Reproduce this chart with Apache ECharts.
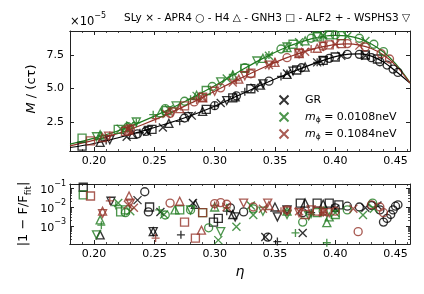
<!DOCTYPE html>
<html><head><meta charset="utf-8">
<script src="https://cdn.jsdelivr.net/npm/echarts@6/dist/echarts.min.js"></script>
<style>html,body{margin:0;padding:0;background:#fff}#c{width:424px;height:294px}</style>
</head><body><div id="c"></div>
<script>
const FONT = 'DejaVu Sans';
const C_GR = '#000000', C_M1 = '#1f7a1f', C_M2 = '#943228';

// tick labels
const xTicks = [0.20, 0.25, 0.30, 0.35, 0.40, 0.45];
const yTopTicks = [2.5, 5.0, 7.5];
const yBotDecades = [-1, -2, -3];
const eosNames = ['SLy', 'APR4', 'H4', 'GNH3', 'ALF2', 'WSPHS3'];

// fit curves (M/(c tau) in units of 1e-5)
const fitEta = [0.18,0.20,0.22,0.24,0.26,0.28,0.30,0.32,0.34,0.36,0.38,0.39,0.40,0.41,0.42,0.43,0.44,0.45,0.462];
const fitGR  = [0.60,0.90,1.33,1.82,2.37,2.97,3.68,4.50,5.32,6.08,6.78,7.10,7.38,7.55,7.58,7.42,6.98,6.30,5.40];
const fitM1  = [0.85,1.30,1.85,2.55,3.35,4.25,5.20,6.25,7.25,8.10,8.70,8.90,8.97,8.92,8.72,8.32,7.72,6.85,5.45];
const fitM2  = [0.72,1.15,1.65,2.30,3.05,3.90,4.80,5.70,6.55,7.30,7.90,8.12,8.28,8.33,8.24,7.98,7.50,6.75,5.42];

// top panel points [eta, M/(c tau) x1e5]
const GR_SLy  = [[0.227,1.40],[0.244,1.78],[0.257,2.10],[0.281,2.98],[0.305,3.92],[0.333,5.05],[0.36,6.12],[0.385,6.95],[0.405,7.45],[0.425,7.45]];
const GR_APR4 = [[0.236,1.62],[0.243,1.80],[0.275,2.80],[0.30,3.72],[0.318,4.45],[0.345,5.55],[0.372,6.55],[0.395,7.25],[0.41,7.55],[0.42,7.55],[0.43,7.3],[0.437,7.0],[0.443,6.75],[0.448,6.45],[0.452,6.2]];
const GR_H4   = [[0.205,0.98],[0.232,1.58],[0.262,2.40],[0.29,3.30],[0.317,4.38],[0.338,5.25],[0.36,6.05],[0.375,6.6]];
const GR_GNH3 = [[0.19,0.70],[0.248,1.95],[0.293,3.45],[0.315,4.30],[0.33,4.98],[0.368,6.38],[0.39,7.1],[0.40,7.35],[0.425,7.5],[0.435,7.2]];
const GR_ALF2 = [[0.21,1.13],[0.238,1.70],[0.271,2.55],[0.30,3.70],[0.325,4.75],[0.355,5.9],[0.385,6.95]];
const GR_WSP  = [[0.213,1.18],[0.245,1.88],[0.278,2.90],[0.31,4.10],[0.34,5.35],[0.365,6.3],[0.39,7.05]];

const M1_SLy  = [[0.222,2.0],[0.23,2.25],[0.262,3.45],[0.285,4.45],[0.31,5.75],[0.345,7.45],[0.37,8.45],[0.39,8.95],[0.41,8.9],[0.425,8.55]];
const M1_APR4 = [[0.228,2.15],[0.259,3.5],[0.275,4.05],[0.298,5.15],[0.325,6.55],[0.355,7.95],[0.38,8.75],[0.40,9.0],[0.42,8.75],[0.432,8.3],[0.44,7.75]];
const M1_H4   = [[0.205,1.55],[0.227,2.1],[0.255,3.2],[0.285,4.5],[0.315,6.0],[0.34,7.25],[0.36,8.05],[0.375,8.55]];
const M1_GNH3 = [[0.19,1.3],[0.22,1.95],[0.26,3.35],[0.293,4.85],[0.325,6.5],[0.365,8.3],[0.385,8.85],[0.395,9.0],[0.405,8.95]];
const M1_ALF2 = [[0.206,1.5],[0.235,2.45],[0.249,3.05],[0.28,4.2],[0.315,6.05],[0.345,7.5],[0.39,8.8]];
const M1_WSP  = [[0.202,1.4],[0.235,2.5],[0.268,3.7],[0.305,5.5],[0.335,7.05],[0.36,8.1],[0.385,8.9]];

const M2_SLy  = [[0.228,1.95],[0.26,3.1],[0.29,4.3],[0.315,5.45],[0.345,6.75],[0.375,7.75],[0.40,8.3],[0.42,8.2]];
const M2_APR4 = [[0.23,1.95],[0.263,3.15],[0.283,4.0],[0.305,5.05],[0.33,6.1],[0.36,7.3],[0.39,8.15],[0.41,8.35],[0.425,8.1],[0.438,7.6],[0.445,7.2]];
const M2_H4   = [[0.207,1.35],[0.229,1.9],[0.271,3.5],[0.29,4.3],[0.32,5.7],[0.35,6.95],[0.37,7.6],[0.385,8.0]];
const M2_GNH3 = [[0.197,1.1],[0.226,1.8],[0.275,3.7],[0.29,4.35],[0.33,6.15],[0.37,7.65],[0.395,8.25],[0.405,8.35]];
const M2_ALF2 = [[0.213,1.5],[0.251,2.75],[0.285,4.15],[0.318,5.6],[0.35,6.95],[0.38,7.95]];
const M2_WSP  = [[0.212,1.45],[0.23,1.98],[0.265,3.25],[0.30,4.8],[0.325,5.95],[0.345,6.75],[0.37,7.6],[0.39,8.15]];

// bottom panel residuals [eta, |1-F/Ffit|]
const rGR_SLy  = [[0.236,0.023],[0.255,0.0055],[0.282,0.016],[0.342,2.6e-4],[0.373,4.3e-4],[0.40,0.008],[0.425,0.009],[0.435,0.012]];
const rGR_APR4 = [[0.242,0.063],[0.245,0.0055],[0.313,0.009],[0.324,0.0055],[0.344,2.6e-4],[0.373,0.005],[0.40,0.009],[0.41,0.011],[0.42,0.01],[0.43,0.012],[0.437,0.007],[0.440,0.0016],[0.443,0.0025],[0.446,0.004],[0.448,0.007],[0.450,0.011],[0.452,0.013]];
const rGR_H4   = [[0.205,3.4e-4],[0.249,5e-4],[0.284,0.014],[0.315,0.004],[0.35,0.01],[0.375,0.016],[0.39,0.014]];
const rGR_GNH3 = [[0.191,0.11],[0.246,0.01],[0.299,0.0016],[0.303,0.0025],[0.371,0.016],[0.385,0.016],[0.395,0.016],[0.403,0.013]];
const rGR_ALF2 = [[0.272,3.4e-4],[0.352,1.5e-4],[0.31,0.006],[0.38,0.005]];
const rGR_WSP  = [[0.214,0.02],[0.249,5e-4],[0.317,0.003],[0.352,0.003],[0.36,0.007]];

const rM1_SLy  = [[0.22,0.016],[0.23,0.006],[0.258,0.004],[0.303,1.8e-4],[0.318,9e-4],[0.332,0.0038],[0.33,0.012],[0.40,0.005],[0.423,0.0038],[0.432,0.008]];
const rM1_APR4 = [[0.226,0.005],[0.259,0.0038],[0.28,0.007],[0.295,8e-4],[0.332,0.008],[0.373,0.0016],[0.39,0.006],[0.41,0.007],[0.431,0.016]];
const rM1_H4   = [[0.205,0.0021],[0.267,0.007],[0.30,0.01],[0.36,0.006],[0.393,0.0015],[0.395,0.003]];
const rM1_GNH3 = [[0.191,0.043],[0.222,0.0055],[0.226,0.007],[0.271,0.007],[0.29,0.005],[0.385,0.005],[0.40,0.004]];
const rM1_ALF2 = [[0.206,0.0011],[0.218,0.012],[0.254,0.007],[0.31,0.009],[0.367,4.3e-4],[0.393,1.3e-4],[0.38,0.004]];
const rM1_WSP  = [[0.202,3.4e-4],[0.28,0.007],[0.305,5e-4],[0.34,0.006],[0.36,0.004],[0.378,0.0035]];

const rM2_SLy  = [[0.228,0.013],[0.233,0.009],[0.31,0.01],[0.34,0.008],[0.37,0.006],[0.39,0.005],[0.415,0.008]];
const rM2_APR4 = [[0.263,0.016],[0.30,0.015],[0.305,0.017],[0.31,0.014],[0.332,0.01],[0.36,0.007],[0.40,0.006],[0.419,5e-4],[0.43,0.013],[0.437,0.01],[0.44,0.005]];
const rM2_H4   = [[0.207,0.006],[0.229,0.038],[0.271,0.02],[0.289,6e-4],[0.345,0.012],[0.39,0.006]];
const rM2_GNH3 = [[0.197,0.038],[0.275,0.0016],[0.284,2.3e-4],[0.29,0.005],[0.375,0.004],[0.385,0.006]];
const rM2_ALF2 = [[0.213,0.021],[0.251,2.3e-4],[0.30,0.012],[0.355,0.006],[0.39,0.005]];
const rM2_WSP  = [[0.207,0.0045],[0.23,0.016],[0.324,0.016],[0.344,0.016],[0.36,0.006],[0.37,0.005],[0.38,0.007],[0.395,0.005]];

// ---------- build ----------
const SYM = [
  'path://M0,0L10,10M10,0L0,10',      // x  SLy
  'circle',                            // o  APR4
  'path://M5,0L10,8.66L0,8.66Z',       // ^  H4
  'path://M0,0L10,0L10,10L0,10Z',      // s  GNH3
  'path://M5,0L5,10M0,5L10,5',         // +  ALF2
  'path://M0,0L10,0L5,8.66Z'           // v  WSPHS3
];
const theories = [
  {name:'GR', color:C_GR, fit:fitGR, top:[GR_SLy,GR_APR4,GR_H4,GR_GNH3,GR_ALF2,GR_WSP], bot:[rGR_SLy,rGR_APR4,rGR_H4,rGR_GNH3,rGR_ALF2,rGR_WSP]},
  {name:'m1', color:C_M1, fit:fitM1, top:[M1_SLy,M1_APR4,M1_H4,M1_GNH3,M1_ALF2,M1_WSP], bot:[rM1_SLy,rM1_APR4,rM1_H4,rM1_GNH3,rM1_ALF2,rM1_WSP]},
  {name:'m2', color:C_M2, fit:fitM2, top:[M2_SLy,M2_APR4,M2_H4,M2_GNH3,M2_ALF2,M2_WSP], bot:[rM2_SLy,rM2_APR4,rM2_H4,rM2_GNH3,rM2_ALF2,rM2_WSP]}
];
const legendText = {
  'GR': 'GR',
  'm1': '{i|m}{sub|ϕ}{t| = 0.0108neV}',
  'm2': '{i|m}{sub|ϕ}{t| = 0.1084neV}'
};

const SYM_SIZE = 8, SYM_W = 1.35;
const series = [];
theories.forEach((th, ti) => {
  series.push({type:'line', name:'fit'+ti, xAxisIndex:0, yAxisIndex:0, data: fitEta.map((e,i)=>[e, th.fit[i]]),
    smooth:0.35, showSymbol:false, symbol:'none', lineStyle:{color:th.color, width:1.2}, silent:true, z:2+ti, clip:true});
});
theories.forEach((th, ti) => {
  th.top.forEach((arr, ei) => {
    series.push({type:'scatter', name: ei===0 ? th.name : th.name+'_'+eosNames[ei], xAxisIndex:0, yAxisIndex:0, data:arr,
      symbol:SYM[ei], symbolSize:SYM_SIZE, itemStyle:{color:'none', borderColor:th.color, borderWidth:SYM_W},
      silent:true, clip:true, z:5+ti});
  });
  th.bot.forEach((arr, ei) => {
    series.push({type:'scatter', name: th.name+'_r_'+eosNames[ei], xAxisIndex:4, yAxisIndex:2, data:arr.map(p=>[p[0], Math.log10(p[1])]),
      symbol:SYM[ei], symbolSize:SYM_SIZE, itemStyle:{color:'none', borderColor:th.color, borderWidth:SYM_W},
      silent:true, clip:true, z:5+ti});
  });
});

const X_MIN = 0.18, X_MAX = 0.462;
const axLine = {show:true, lineStyle:{color:'#222', width:1}};
function xAx(grid, pos, labels, minor) {
  return {type:'value', gridIndex:grid, position:pos, min:X_MIN, max:X_MAX,
    interval: minor ? 0.01 : undefined,
    axisLine:axLine, splitLine:{show:false},
    axisTick: minor ? {show:true, inside:true, length:2, lineStyle:{color:'#222', width:0.8}}
                    : {show:true, inside:true, length:4, customValues:xTicks, lineStyle:{color:'#222', width:1}},
    axisLabel: labels ? {show:true, customValues:xTicks, formatter:v=>v.toFixed(2), fontFamily:FONT, fontSize:11, color:'#000', margin:5}
                      : {show:false}};
}
const botMinor = [];
[-4,-3,-2,-1].forEach(d => { for (let k=2;k<=9;k++){ const v = d + Math.log10(k); if (v>-3.95 && v<-0.79) botMinor.push(v);} });

const xAxes = [
  xAx(0,'bottom',true,false), xAx(0,'top',false,false), xAx(0,'bottom',false,true), xAx(0,'top',false,true),
  xAx(1,'bottom',true,false), xAx(1,'top',false,false), xAx(1,'bottom',false,true), xAx(1,'top',false,true)
];
const yAxes = [
  {type:'value', gridIndex:0, position:'left', min:0.34, max:9.29, axisLine:axLine, splitLine:{show:false},
   axisTick:{show:true, inside:true, length:4, customValues:yTopTicks, lineStyle:{color:'#222'}},
   axisLabel:{show:true, customValues:yTopTicks, formatter:v=>v.toFixed(1), fontFamily:FONT, fontSize:11, color:'#000', margin:6}},
  {type:'value', gridIndex:0, position:'right', min:0.34, max:9.29, axisLine:axLine, splitLine:{show:false},
   axisTick:{show:true, inside:true, length:4, customValues:yTopTicks, lineStyle:{color:'#222'}}, axisLabel:{show:false}},
  {type:'value', gridIndex:1, position:'left', min:-3.95, max:-0.79, axisLine:axLine, splitLine:{show:false},
   axisTick:{show:true, inside:true, length:4, customValues:yBotDecades, lineStyle:{color:'#222'}},
   axisLabel:{show:true, customValues:yBotDecades, formatter:v=>'{b|10}{s|−'+(-v)+'}', margin:4,
     rich:{b:{fontFamily:FONT, fontSize:11, color:'#000', verticalAlign:'bottom', lineHeight:16},
           s:{fontFamily:FONT, fontSize:8, color:'#000', verticalAlign:'top'}}}},
  {type:'value', gridIndex:1, position:'right', min:-3.95, max:-0.79, axisLine:axLine, splitLine:{show:false},
   axisTick:{show:true, inside:true, length:4, customValues:yBotDecades, lineStyle:{color:'#222'}}, axisLabel:{show:false}},
  {type:'value', gridIndex:1, position:'left', min:-3.95, max:-0.79, axisLine:{show:false}, splitLine:{show:false},
   axisTick:{show:true, inside:true, length:2, customValues:botMinor, lineStyle:{color:'#222', width:0.8}}, axisLabel:{show:false}},
  {type:'value', gridIndex:1, position:'right', min:-3.95, max:-0.79, axisLine:{show:false}, splitLine:{show:false},
   axisTick:{show:true, inside:true, length:2, customValues:botMinor, lineStyle:{color:'#222', width:0.8}}, axisLabel:{show:false}}
];

const option = {
  animation:false,
  backgroundColor:'#fff',
  textStyle:{fontFamily:FONT},
  grid:[{left:70, top:31, width:340, height:120}, {left:70, top:184, width:340, height:60}],
  xAxis:xAxes, yAxis:yAxes,
  legend:{orient:'vertical', left:272, top:88, itemWidth:32, itemHeight:9, itemGap:3,
    data:['GR','m1','m2'], selectedMode:false,
    formatter: n => legendText[n],
    textStyle:{fontFamily:FONT, fontSize:11, color:'#000', lineHeight:14,
      rich:{i:{fontStyle:'italic', fontSize:11, fontFamily:FONT}, sub:{fontSize:7.5, fontFamily:FONT, verticalAlign:'bottom', lineHeight:14}, t:{fontSize:11, fontFamily:FONT}}}},
  graphic:[
    {type:'text', left:70, top:12, style:{text:'{b|×10}{s|−5}', rich:{b:{fontFamily:FONT, fontSize:11.5, fill:'#000', verticalAlign:'bottom', lineHeight:16}, s:{fontFamily:FONT, fontSize:8, fill:'#000', verticalAlign:'top'}}}},
    {type:'text', right:14, top:13, style:{text:'SLy × - APR4 ○ - H4 △ - GNH3 □ - ALF2 + - WSPHS3 ▽', fontFamily:FONT, fontSize:10.5, fill:'#000'}},
    {type:'text', x:32, y:89, rotation:Math.PI/2, style:{text:'{i|M} / (cτ)', align:'center', verticalAlign:'middle', rich:{i:{fontStyle:'italic', fontFamily:FONT, fontSize:13, fill:'#000'}}, fontFamily:FONT, fontSize:13, fill:'#000'}},
    {type:'text', x:24, y:214, rotation:Math.PI/2, style:{text:'|1 − F/F{sub|fit}|', align:'center', verticalAlign:'middle', fontFamily:FONT, fontSize:13, fill:'#000', rich:{sub:{fontFamily:FONT, fontSize:9, fill:'#000', verticalAlign:'bottom', lineHeight:18}}}},
    {type:'text', x:240, y:272, style:{text:'η', align:'center', verticalAlign:'middle', fontFamily:FONT, fontSize:14, fontStyle:'italic', fill:'#000'}}
  ],
  series
};
const chart = echarts.init(document.getElementById('c'), null, {renderer:'canvas'});
chart.setOption(option);
</script></body></html>
